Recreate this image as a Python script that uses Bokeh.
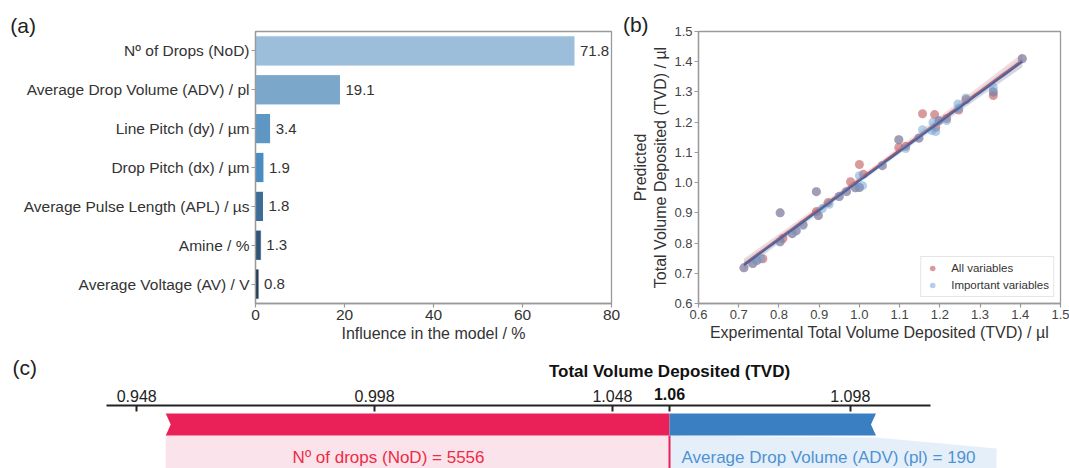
import numpy as np
from bokeh.plotting import figure
from bokeh.layouts import column, row
from bokeh.models import (ColumnDataSource, FactorRange, Range1d, Label, Legend,
                          LegendItem, FixedTicker, PrintfTickFormatter)
from bokeh.core.properties import value
from bokeh.embed import file_html
from bokeh.resources import INLINE

FONT = "Liberation Sans"

# ---------------- data ----------------
# (a) feature influence
features = ["Nº of Drops (NoD)", "Average Drop Volume (ADV) / pl", "Line Pitch (dy) / µm",
            "Drop Pitch (dx) / µm", "Average Pulse Length (APL) / µs", "Amine / %",
            "Average Voltage (AV) / V"]
influence = [71.8, 19.1, 3.4, 1.9, 1.8, 1.3, 0.8]
bar_colors = ["#9dbedb", "#7ba7cb", "#5f97c4", "#4a8bc2", "#3b6d98", "#2f5679", "#243d55"]
influence_ticks = [0, 20, 40, 60, 80]

# (b) experimental vs predicted TVD
all_x = [0.713, 0.735, 0.745, 0.760, 0.803, 0.803, 0.810, 0.833, 0.843, 0.860, 0.893, 0.893,
         0.898, 0.922, 0.950, 0.968, 0.978, 0.990, 1.000, 1.000, 1.010, 1.057, 1.098, 1.098,
         1.115, 1.148, 1.157, 1.187, 1.190, 1.198, 1.217, 1.247, 1.265, 1.333, 1.333, 1.405]
all_y = [0.718, 0.732, 0.742, 0.748, 0.900, 0.805, 0.815, 0.831, 0.841, 0.861, 0.970, 0.904,
         0.891, 0.934, 0.954, 0.970, 1.003, 0.983, 0.984, 1.060, 1.028, 1.056, 1.142, 1.116,
         1.120, 1.147, 1.228, 1.225, 1.183, 1.205, 1.212, 1.240, 1.275, 1.288, 1.300, 1.410]
imp_x = [0.713, 0.735, 0.745, 0.755, 0.803, 0.803, 0.833, 0.843, 0.860, 0.893, 0.898, 0.908,
         0.925, 0.950, 0.968, 0.990, 1.000, 1.008, 1.000, 1.057, 1.098, 1.115, 1.148, 1.157,
         1.180, 1.190, 1.183, 1.198, 1.217, 1.245, 1.247, 1.265, 1.333, 1.333, 1.405]
imp_y = [0.718, 0.732, 0.742, 0.748, 0.900, 0.803, 0.831, 0.840, 0.858, 0.970, 0.891, 0.914,
         0.928, 0.954, 0.970, 0.983, 0.984, 0.990, 1.023, 1.056, 1.142, 1.113, 1.147, 1.175,
         1.172, 1.169, 1.200, 1.205, 1.205, 1.260, 1.245, 1.280, 1.315, 1.300, 1.410]
tvd_ticks = [0.6, 0.7, 0.8, 0.9, 1.0, 1.1, 1.2, 1.3, 1.4, 1.5]

# (c) force plot
force_ticks = [0.948, 0.998, 1.048, 1.098]
force_output = 1.06
force_labels = ["Nº of drops (NoD) = 5556", "Average Drop Volume (ADV) (pl) = 190"]
force_effects = [0.1059, -0.0434]

# ---------------- styling helpers ----------------
GRAY = "#9a9a9a"


def style_axes(p, tick_size, label_size, tick_color):
    p.xgrid.visible = False
    p.ygrid.visible = False
    p.outline_line_color = GRAY
    p.outline_line_width = 1.3
    p.background_fill_color = "white"
    p.border_fill_color = "white"
    for ax in p.xaxis + p.yaxis:
        ax.axis_line_color = GRAY
        ax.axis_line_width = 1.3
        ax.major_tick_line_color = GRAY
        ax.major_tick_line_width = 1.2
        ax.major_tick_out = 4
        ax.major_tick_in = 0
        ax.minor_tick_line_color = None
        ax.major_label_text_font = FONT
        ax.major_label_text_font_size = tick_size
        ax.major_label_text_color = tick_color
        ax.major_label_standoff = 2
        ax.axis_label_text_font = FONT
        ax.axis_label_text_font_size = label_size
        ax.axis_label_text_font_style = "normal"
        ax.axis_label_text_color = "#333333"
        ax.axis_label_standoff = 2


def tag(text, x, y, size="21px", bold=False, align="left"):
    return Label(x=x, y=y, text=text, text_font=FONT, text_font_size=size,
                 text_font_style="bold" if bold else "normal",
                 text_color="#111111" if bold else "#222222",
                 text_baseline="middle", text_align=align)


# ---------------- panel (a) ----------------
pa = figure(width=620, height=353, y_range=FactorRange(factors=features[::-1]),
            x_range=Range1d(0, 80), output_backend="svg", toolbar_location=None,
            min_border_left=255, min_border_right=9, min_border_top=30, min_border_bottom=48)
src_a = ColumnDataSource(dict(f=features, v=influence, c=bar_colors,
                              t=[f"{v:.1f}" for v in influence]))
pa.hbar(y="f", left=0, right="v", height=0.78, fill_color="c", line_color="white",
        line_width=1, source=src_a)
pa.text(x="v", y="f", text="t", x_offset=5, text_align="left", text_baseline="middle",
        text_font=value(FONT), text_font_size="15px", text_color="#333333", source=src_a)
style_axes(pa, "15.5px", "16px", "#333333")
pa.xaxis.ticker = FixedTicker(ticks=influence_ticks)
pa.xaxis.axis_label = "Influence in the model / %"
# side-panel annotation (not clipped to the frame)
pa.add_layout(tag("(a)", -55.1, 7.15), "above")

# ---------------- panel (b) ----------------
pb = figure(width=449, height=353, x_range=Range1d(0.6, 1.5), y_range=Range1d(0.6, 1.5),
            output_backend="svg", toolbar_location=None,
            min_border_left=78, min_border_right=9, min_border_top=31, min_border_bottom=50)

RED = "#b8474b"
BLUE = "#6a9fd2"


def fit_band(x, y):
    x = np.asarray(x, float)
    y = np.asarray(y, float)
    b, a = np.polyfit(x, y, 1)
    xs = np.linspace(x.min(), x.max(), 60)
    yhat = a + b * xs
    resid = y - (a + b * x)
    n = len(x)
    s = np.sqrt(np.sum(resid ** 2) / (n - 2))
    se = s * np.sqrt(1 / n + (xs - x.mean()) ** 2 / np.sum((x - x.mean()) ** 2))
    return xs, yhat, yhat - 2.03 * se, yhat + 2.03 * se


r_all = pb.scatter(all_x, all_y, size=9, fill_color=RED, fill_alpha=0.55, line_color=None)
xs, yh, lo, hi = fit_band(all_x, all_y)
pb.varea(x=xs, y1=lo, y2=hi, fill_color=RED, fill_alpha=0.18)
pb.line(xs, yh, line_color="#c44e52", line_width=2)

r_imp = pb.scatter(imp_x, imp_y, size=9, fill_color=BLUE, fill_alpha=0.5, line_color=None)
xs, yh, lo, hi = fit_band(imp_x, imp_y)
pb.varea(x=xs, y1=lo, y2=hi, fill_color=BLUE, fill_alpha=0.18)
pb.line(xs, yh, line_color="#4a64a0", line_width=2)

style_axes(pb, "13px", "16px", "#444444")
pb.xaxis.ticker = FixedTicker(ticks=tvd_ticks)
pb.yaxis.ticker = FixedTicker(ticks=tvd_ticks)
pb.xaxis.formatter = PrintfTickFormatter(format="%.1f")
pb.yaxis.formatter = PrintfTickFormatter(format="%.1f")
pb.xaxis.axis_label = "Experimental Total Volume Deposited (TVD) / µl"
pb.yaxis.axis_label = "Predicted\nTotal Volume Deposited (TVD) / µl"

legend = Legend(items=[LegendItem(label="All variables", renderers=[r_all]),
                       LegendItem(label="Important variables", renderers=[r_imp])],
                location="bottom_right", label_text_font=FONT, label_text_font_size="11.5px",
                label_text_color="#333333", glyph_height=14, glyph_width=14, label_height=14,
                spacing=3, padding=4, margin=6, label_standoff=12,
                border_line_color="#cccccc", border_line_width=1)
pb.add_layout(legend)
pb.add_layout(tag("(b)", 0.412, 1.523), "above")

# ---------------- panel (c) ----------------
PX = 4757.0          # pixels per TVD unit
C_LEFT = 100         # left border of the force-plot frame
c_start = force_output - (669 - C_LEFT) / PX
c_end = force_output + (1069 - 669) / PX
pc = figure(width=1069, height=115, x_range=Range1d(c_start, c_end),
            y_range=Range1d(468, 405), x_axis_location="above", y_axis_location=None,
            output_backend="svg", toolbar_location=None,
            min_border_left=C_LEFT, min_border_right=0, min_border_top=52, min_border_bottom=0)
pc.xgrid.visible = False
pc.ygrid.visible = False
pc.outline_line_color = None

pos = sum(e for e in force_effects if e > 0)
neg = -sum(e for e in force_effects if e < 0)
x_lo = force_output - pos
x_hi = force_output + neg
notch = 5 / PX
box_r = force_output + 327 / PX

# lower label boxes
pc.quad(left=x_lo, right=force_output, top=435, bottom=468, fill_color="#fae3ea",
        line_color=None)
pc.patch([force_output, x_hi, box_r, box_r, force_output], [435, 437, 448, 468, 468],
         fill_color="#e5eff9", line_color=None)
# arrows
pc.patch([x_lo, force_output, force_output, x_lo, x_lo + notch], [413, 413, 435, 435, 424],
         fill_color="#ea2159", line_color=None)
pc.patch([force_output, x_hi, x_hi - notch, x_hi, force_output], [413, 413, 424, 435, 435],
         fill_color="#3a7fc1", line_color=None)
pc.segment(x0=[force_output], y0=[435], x1=[force_output], y1=[468], line_color="#ea2159",
           line_width=2)
# labels
pc.text(x=[force_output], y=[457], text=[force_labels[0]], x_offset=-185, text_align="right",
        text_baseline="middle", text_font=value(FONT), text_font_size="17px",
        text_color="#ee2c45")
pc.text(x=[force_output], y=[457], text=[force_labels[1]], x_offset=12, text_align="left",
        text_baseline="middle", text_font=value(FONT), text_font_size="17px",
        text_color="#4f93d3")

ax = pc.xaxis[0]
ax.ticker = FixedTicker(ticks=force_ticks + [force_output])
ax.formatter = PrintfTickFormatter(format="%.3f")
ax.major_label_overrides = {force_output: ""}
ax.bounds = (force_output - 0.1184, force_output + 0.0548)
ax.axis_line_color = "#222222"
ax.axis_line_width = 1.8
ax.major_tick_line_color = "#222222"
ax.major_tick_line_width = 2
ax.major_tick_in = 6
ax.major_tick_out = 0
ax.minor_tick_line_color = None
ax.major_label_standoff = 4
ax.major_label_text_font = FONT
ax.major_label_text_font_size = "16px"
ax.major_label_text_color = "#222222"

# side-panel annotations (placed by data coordinates, not clipped)
pc.add_layout(tag("Total Volume Deposited (TVD)", force_output, 371, size="17px", bold=True,
                  align="center"), "above")
pc.add_layout(tag(f"{force_output:.2f}", force_output, 393, size="16px", bold=True,
                  align="center"), "left")
pc.add_layout(tag("(c)", c_start - (C_LEFT - 12) / PX, 367), "left")

layout = column(row(pa, pb), pc)
open("out.html", "w").write(file_html(layout, INLINE))
